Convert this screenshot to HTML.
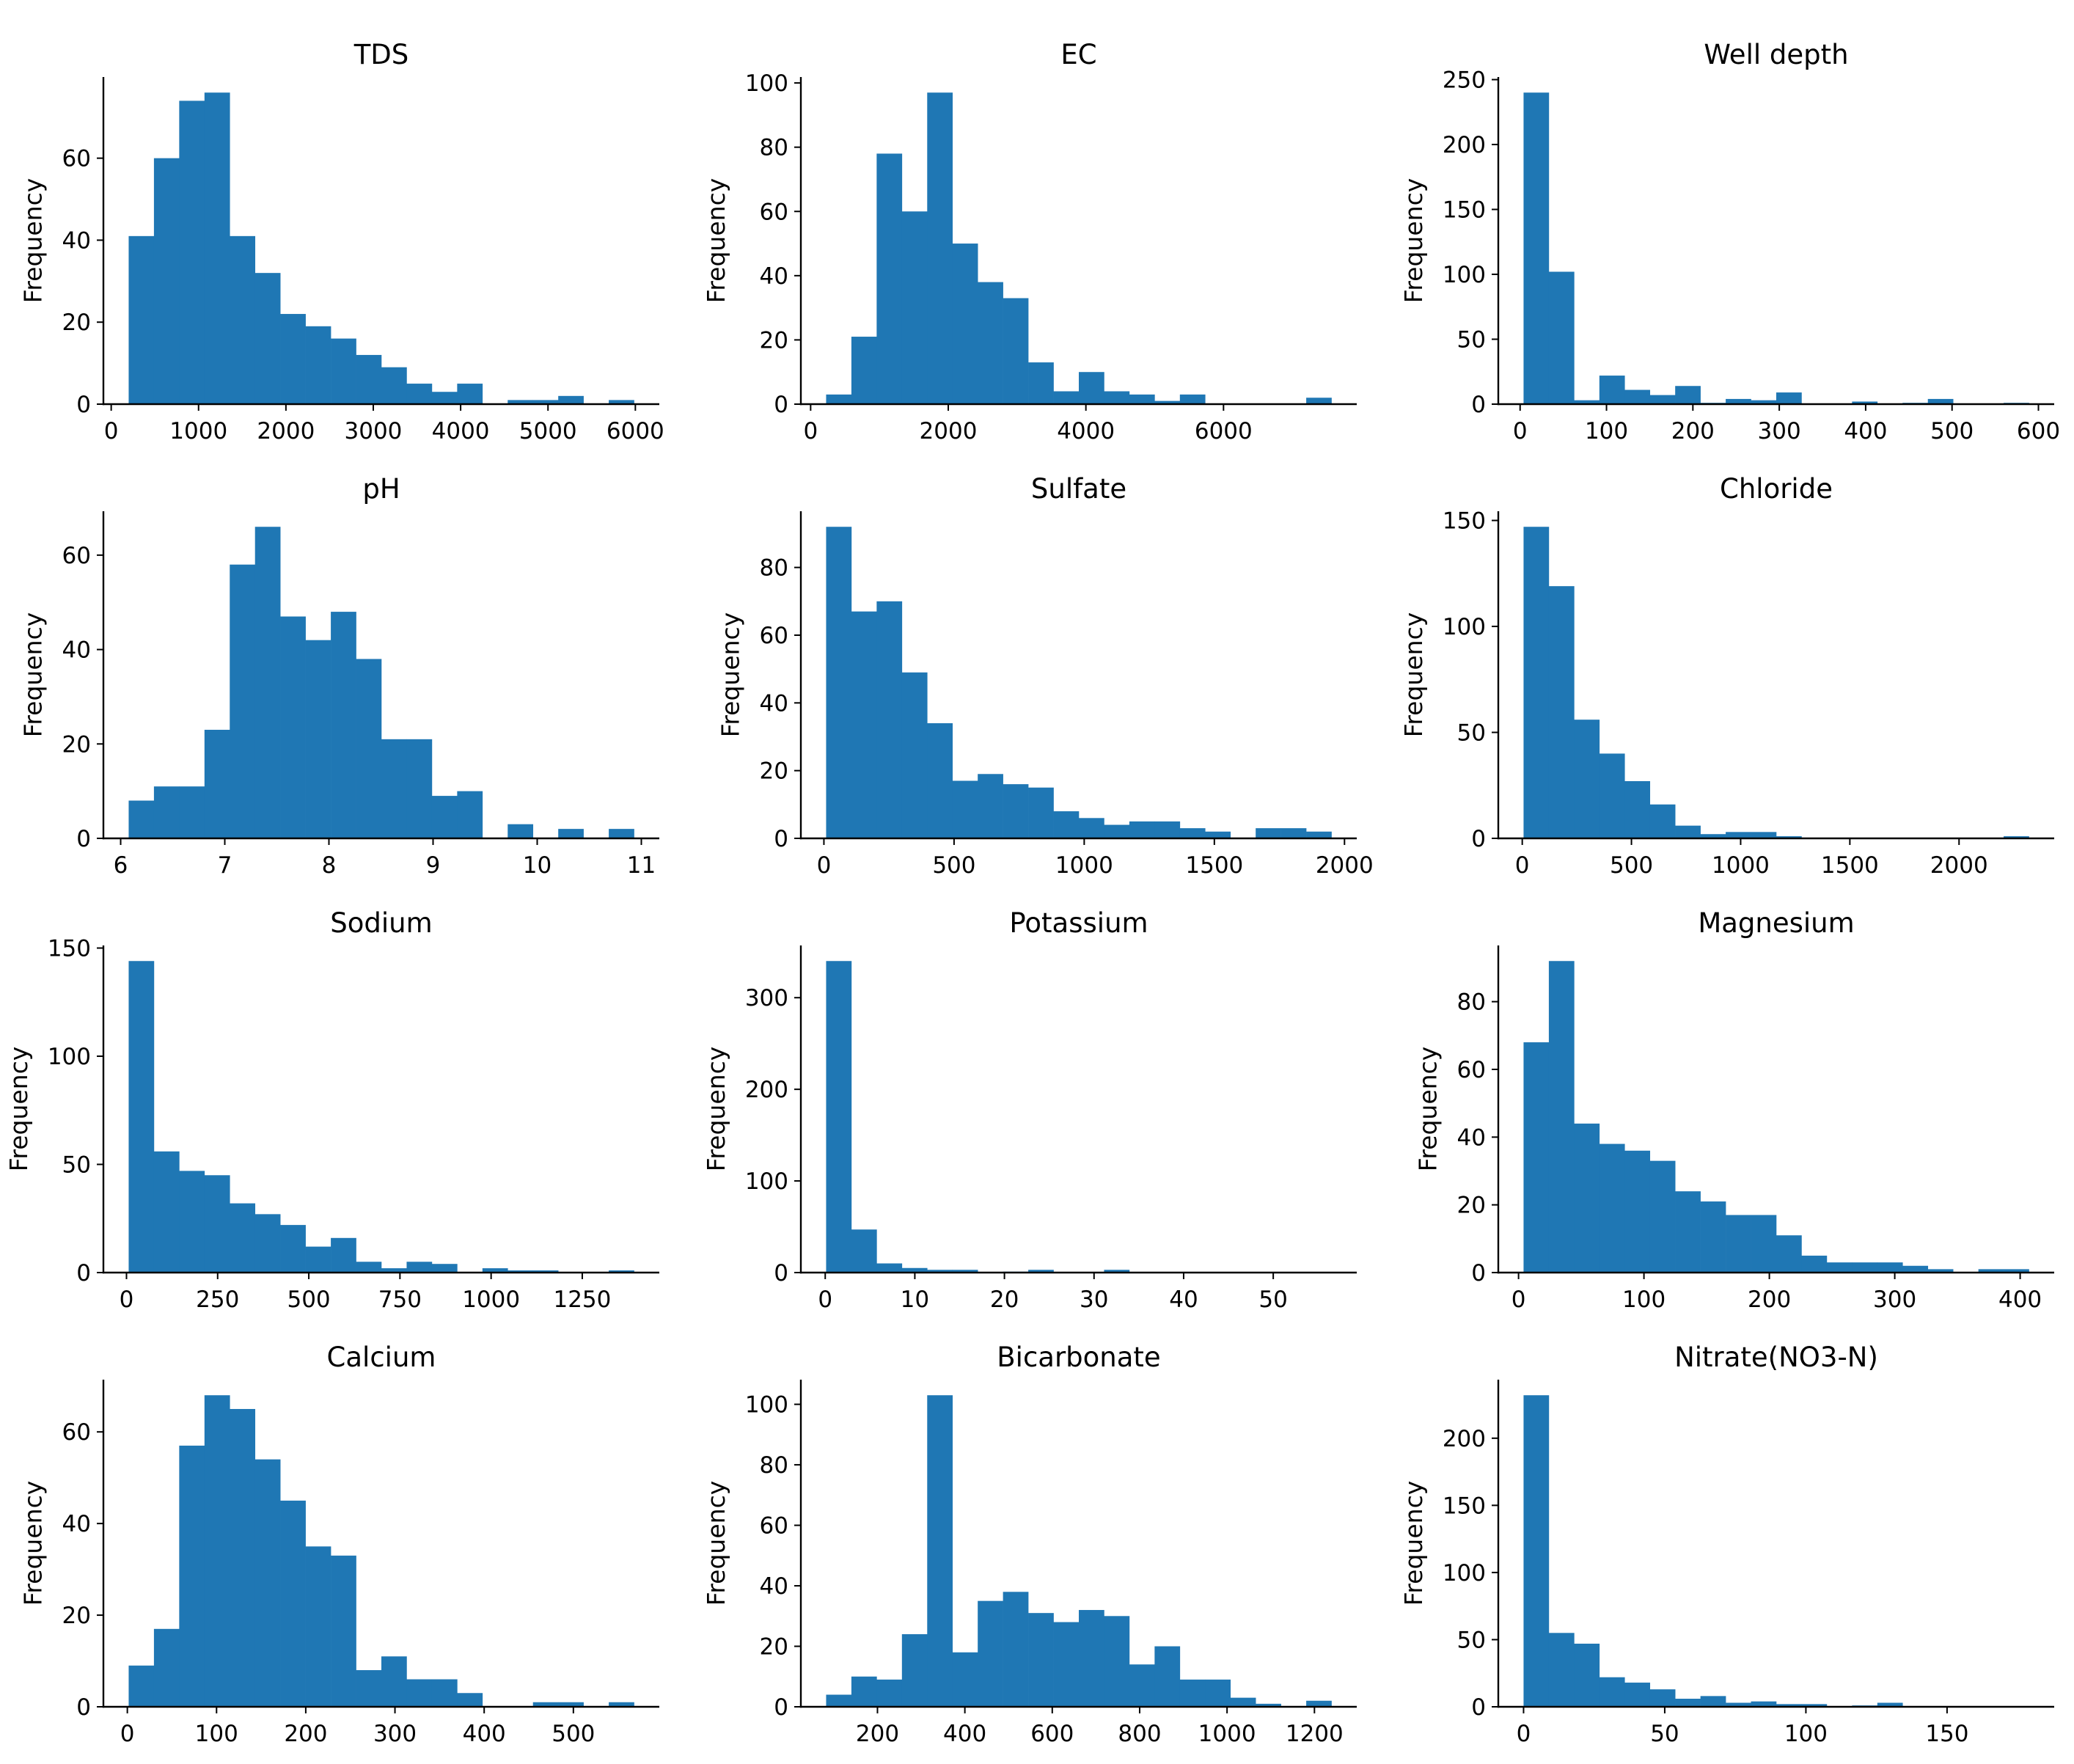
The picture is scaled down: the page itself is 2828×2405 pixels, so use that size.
<!DOCTYPE html>
<html><head><meta charset="utf-8"><style>
html,body{margin:0;padding:0;background:#fff;}
svg{display:block;}
text{font-family:"DejaVu Sans","Liberation Sans",sans-serif;fill:#000;}
</style></head><body>
<svg id="fig" xmlns="http://www.w3.org/2000/svg" width="2828" height="2405" viewBox="0 0 2828 2405"></svg>
<script>
// ---- data (bin ranges, counts, ticks) ----
const tdsRange=[200,5985];
const tdsCounts=[41,60,74,76,41,32,22,19,16,12,9,5,3,5,0,1,1,2,0,1];
const tdsXTicks=[0,1000,2000,3000,4000,5000,6000];
const tdsYTicks=[0,20,40,60];

const ecRange=[225,7569];
const ecCounts=[3,21,78,60,97,50,38,33,13,4,10,4,3,1,3,0,0,0,0,2];
const ecXTicks=[0,2000,4000,6000];
const ecYTicks=[0,20,40,60,80,100];

const wellRange=[4,589];
const wellCounts=[240,102,3,22,11,7,14,1,4,3,9,0,0,2,0,1,4,0,0,1];
const wellXTicks=[0,100,200,300,400,500,600];
const wellYTicks=[0,50,100,150,200,250];

const phRange=[6.077,10.93];
const phCounts=[8,11,11,23,58,66,47,42,48,38,21,21,9,10,0,3,0,2,0,2];
const phXTicks=[6,7,8,9,10,11];
const phYTicks=[0,20,40,60];

const sulfateRange=[8.5,1950];
const sulfateCounts=[92,67,70,49,34,17,19,16,15,8,6,4,5,5,3,2,0,3,3,2];
const sulfateXTicks=[0,500,1000,1500,2000];
const sulfateYTicks=[0,20,40,60,80];

const chlorideRange=[6,2320];
const chlorideCounts=[147,119,56,40,27,16,6,2,3,3,1,0,0,0,0,0,0,0,0,1];
const chlorideXTicks=[0,500,1000,1500,2000];
const chlorideYTicks=[0,50,100,150];

const sodiumRange=[6,1392];
const sodiumCounts=[144,56,47,45,32,27,22,12,16,5,2,5,4,0,2,1,1,0,0,1];
const sodiumXTicks=[0,250,500,750,1000,1250];
const sodiumYTicks=[0,50,100,150];

const potassiumRange=[0.1,56.5];
const potassiumCounts=[340,47,10,5,3,3,0,1,3,0,0,3,0,0,0,0,0,0,0,0];
const potassiumXTicks=[0,10,20,30,40,50];
const potassiumYTicks=[0,100,200,300];

const magnesiumRange=[4,407];
const magnesiumCounts=[68,92,44,38,36,33,24,21,17,17,11,5,3,3,3,2,1,0,1,1];
const magnesiumXTicks=[0,100,200,300,400];
const magnesiumYTicks=[0,20,40,60,80];

const calciumRange=[1.5,568];
const calciumCounts=[9,17,57,68,65,54,45,35,33,8,11,6,6,3,0,0,1,1,0,1];
const calciumXTicks=[0,100,200,300,400,500];
const calciumYTicks=[0,20,40,60];

const bicarbRange=[82.5,1239];
const bicarbCounts=[4,10,9,24,103,18,35,38,31,28,32,30,14,20,9,9,3,1,0,2];
const bicarbXTicks=[200,400,600,800,1000,1200];
const bicarbYTicks=[0,20,40,60,80,100];

const nitrateRange=[0,179];
const nitrateCounts=[232,55,47,22,18,13,6,8,3,4,2,2,0,1,3,0,0,0,0,0];
const nitrateXTicks=[0,50,100,150];
const nitrateYTicks=[0,50,100,150,200];

const panelTitles=["TDS","EC","Well depth","pH","Sulfate","Chloride","Sodium","Potassium","Magnesium","Calcium","Bicarbonate","Nitrate(NO3-N)"];
const panelRanges=[tdsRange,ecRange,wellRange,phRange,sulfateRange,chlorideRange,sodiumRange,potassiumRange,magnesiumRange,calciumRange,bicarbRange,nitrateRange];
const panelCounts=[tdsCounts,ecCounts,wellCounts,phCounts,sulfateCounts,chlorideCounts,sodiumCounts,potassiumCounts,magnesiumCounts,calciumCounts,bicarbCounts,nitrateCounts];
const panelXTicks=[tdsXTicks,ecXTicks,wellXTicks,phXTicks,sulfateXTicks,chlorideXTicks,sodiumXTicks,potassiumXTicks,magnesiumXTicks,calciumXTicks,bicarbXTicks,nitrateXTicks];
const panelYTicks=[tdsYTicks,ecYTicks,wellYTicks,phYTicks,sulfateYTicks,chlorideYTicks,sodiumYTicks,potassiumYTicks,magnesiumYTicks,calciumYTicks,bicarbYTicks,nitrateYTicks];

// ---- layout ----
const NS="http://www.w3.org/2000/svg";
const svg=document.getElementById('fig');
const W=758,H=446;
const colX=[141,1092,2043];
const rowB=[551,1143,1735,2327];
const TICK_FS=31,TITLE_FS=37,LABEL_FS=33;
function mk(tag,attrs,parent){const e=document.createElementNS(NS,tag);for(const k in attrs)e.setAttribute(k,attrs[k]);parent.appendChild(e);return e;}
function slug(s){return s.toLowerCase().replace(/[^a-z0-9]+/g,'-').replace(/^-|-$/g,'');}

panelTitles.forEach((title,i)=>{
  const x0=colX[i%3], yb=rowB[Math.floor(i/3)];
  const [mn,mx]=panelRanges[i];
  const counts=panelCounts[i];
  const r=mx-mn, xl=mn-0.05*r, xr=mx+0.05*r;
  const sx=v=>x0+(v-xl)/(xr-xl)*W;
  const ymax=1.05*Math.max(...counts);
  const sy=v=>yb-v/ymax*H;
  const g=mk('g',{},svg);
  
  
  const bw=r/counts.length;
  counts.forEach((c,k)=>{
    if(c<=0)return;
    const xa=sx(mn+k*bw), xb=sx(mn+(k+1)*bw);
    const rc=mk('rect',{x:xa,y:sy(c),width:xb-xa+0.3,height:yb-sy(c),fill:'#1f77b4'},g);
    
    
  });
  const ls=mk('line',{x1:x0,y1:yb-H,x2:x0,y2:yb+1.2,stroke:'#000','stroke-width':2.4},g);
  
  
  const bs=mk('line',{x1:x0-1.2,y1:yb,x2:x0+W,y2:yb,stroke:'#000','stroke-width':2.4},g);
  
  
  panelXTicks[i].forEach(v=>{
    const x=sx(v);
    const t=mk('line',{x1:x,y1:yb,x2:x,y2:yb+9,stroke:'#000','stroke-width':2},g);
    
    
    const tx=mk('text',{x:x,y:yb+47,'text-anchor':'middle','font-size':TICK_FS},g);
    tx.textContent=String(v);
    
    
  });
  let maxLen=0;
  panelYTicks[i].forEach(v=>{
    const y=sy(v);
    const t=mk('line',{x1:x0-9,y1:y,x2:x0,y2:y,stroke:'#000','stroke-width':2},g);
    
    
    const tx=mk('text',{x:x0-17,y:y+11,'text-anchor':'end','font-size':TICK_FS},g);
    tx.textContent=String(v);
    
    
    maxLen=Math.max(maxLen,String(v).length);
  });
  const lx=x0-(17+maxLen*0.636*TICK_FS+23+LABEL_FS*0.5);
  const ly=yb-H/2;
  const yl=mk('text',{x:lx,y:ly,'text-anchor':'middle','dominant-baseline':'central','font-size':LABEL_FS,transform:`rotate(-90 ${lx} ${ly})`},g);
  yl.textContent='Frequency';
  
  
  const tt=mk('text',{x:x0+W/2,y:yb-H-18,'text-anchor':'middle','font-size':TITLE_FS},g);
  tt.textContent=title;
  
  
});
</script>
</body></html>
